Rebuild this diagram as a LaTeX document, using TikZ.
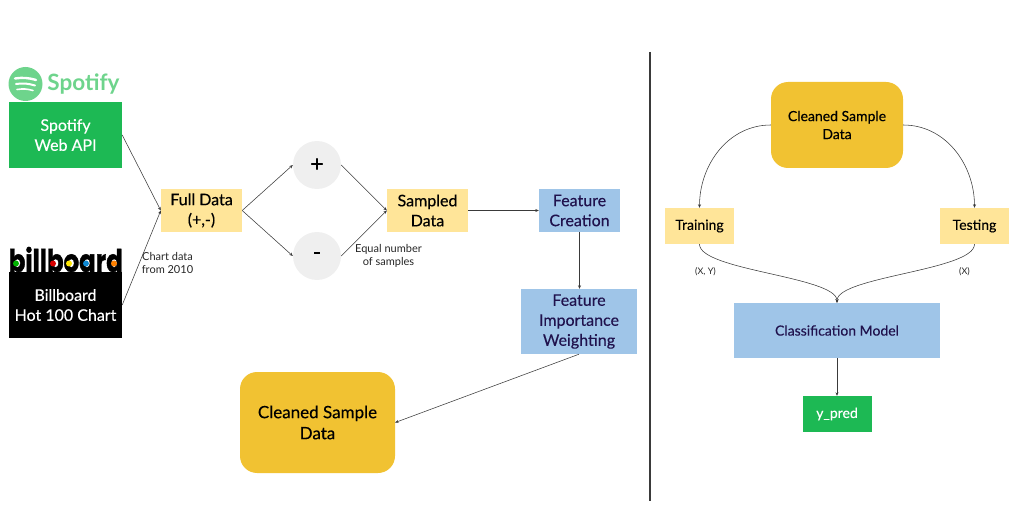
\documentclass[tikz,border=0pt]{standalone}
\usepackage{fontspec}
\setmainfont{Lato}
\newfontfamily\medfont{Lato}[FakeBold=0.25]
\newfontfamily\logofont{Poppins}[FakeBold=1.5]
\usetikzlibrary{arrows.meta}
\definecolor{spotgreen}{HTML}{1DB954}
\definecolor{logogreen}{HTML}{6ED48C}
\definecolor{paleyellow}{HTML}{FFE599}
\definecolor{paleblue}{HTML}{9FC5E8}
\definecolor{deepyellow}{HTML}{F1C232}
\definecolor{palegrey}{HTML}{EFEFEF}
\definecolor{navy}{HTML}{20124D}
\definecolor{wire}{HTML}{3A3A3A}
\begin{document}
\begin{tikzpicture}[x=1pt,y=-1pt]

\tikzset{box/.style={inner sep=0pt,align=center,font=\medfont\fontsize{16}{20}\selectfont,execute at begin node={\vspace*{7pt}}},}
\tikzset{smallbox/.style={font=\medfont\fontsize{14}{18}\selectfont},}
\tikzset{greenbox/.style={box,fill=spotgreen,text=white,minimum width=113pt,minimum height=66pt},}
\tikzset{blackbox/.style={box,fill=black,text=white,minimum width=113pt,minimum height=66pt},}
\tikzset{yellowbox/.style={box,fill=paleyellow,minimum width=81pt,minimum height=43pt},}
\tikzset{bluebox/.style={box,fill=paleblue,text=navy,minimum width=81pt,minimum height=43pt},}
\tikzset{cleaned/.style={box,rounded corners=17pt,fill=deepyellow},}
\tikzset{sign/.style={circle,fill=palegrey,minimum size=48pt,inner sep=0pt,font=\medfont\fontsize{23}{24}\selectfont},}
\tikzset{note/.style={inner sep=0pt,align=center,font=\fontsize{11}{13.5}\selectfont,text=black!85},}
\tikzset{wired/.style={-{Stealth[length=3.5pt,width=3pt]},line width=0.55pt,wire},}

\useasboundingbox (0,0) rectangle (1015,513);

	\draw
		(65.5,135) node[greenbox] (spotbox) {Spotify\\Web API}
		(65.5,305) node[blackbox] (billbox) {Billboard\\Hot 100 Chart}
		(201.5,210.5) node[yellowbox] (full) {Full Data\\(+,-)}
		(317,165) node[sign] (plus) {+}
		(317,256) node[sign] (minus) {\raisebox{-3pt}{-}}
		(427.5,210.5) node[yellowbox] (sampled) {Sampled\\Data}
		(579.5,210.5) node[bluebox] (creation) {Feature\\Creation}
		(579,321.5) node[bluebox,minimum width=116pt,minimum height=65pt] (weighting) {Feature\\Importance\\Weighting}
		(317.5,422.5) node[cleaned,minimum width=155pt,minimum height=101pt,font=\medfont\fontsize{17}{21}\selectfont] (cleanA) {Cleaned Sample\\Data}

		(837,125) node[cleaned,smallbox,minimum width=132pt,minimum height=86pt] (cleanB) {Cleaned Sample\\Data}
		(699.5,226) node[yellowbox,smallbox,minimum width=69pt,minimum height=36pt] (training) {Training}
		(974.5,226) node[yellowbox,smallbox,minimum width=69pt,minimum height=36pt] (testing) {Testing}
		(837,330.5) node[bluebox,smallbox,minimum width=206pt,minimum height=55pt] (model) {Classification Model}
		(837,414) node[greenbox,smallbox,minimum width=69pt,minimum height=36pt] (pred) {y\_pred}

		(167.5,263) node[note] (chart) {Chart data\\from 2010}
		(388.5,256) node[note] (equal) {Equal number\\of samples}
		(705.5,271.5) node[note,font=\fontsize{9}{11}\selectfont] (xy) {(X, Y)}
		(964.5,271.5) node[note,font=\fontsize{9}{11}\selectfont] (xonly) {(X)}
;

% logos
\draw[fill=logogreen,draw=none] (25.5,84) circle (17pt);
\draw[white,line width=2.4pt,line cap=round] (15,78.5) to [bend left=12] (36,80);
\draw[white,line width=2pt,line cap=round] (16,84) to [bend left=12] (35,85.5);
\draw[white,line width=1.6pt,line cap=round] (17,89.5) to [bend left=12] (33,90.5);
\draw(83.5,84)node[inner sep=0pt,text=logogreen,font=\fontsize{22.5}{24}\selectfont\bfseries] (spotlogo) {Spotify};

\draw(65.8,259.5)node[inner sep=0pt,font=\logofont\bfseries\fontsize{26}{28}\selectfont,xscale=0.94,yscale=1.2] (billlogo) {billboard};
\foreach \xx/\cc in {16/green!70!black,53/red!85!black,69/yellow!90!orange,86/cyan!70!blue,114/orange}
	\fill[\cc] (\xx,263.5) circle (3pt);

% left side
\draw[wired](spotbox.east) -- (full.west);
\draw[wired](billbox.east) -- (full.west);
\draw[wired](full.east) -- (plus.west);
\draw[wired](full.east) -- (minus.west);
\draw[wired](plus.east) -- (sampled.west);
\draw[wired](minus.east) -- (sampled.west);
\draw[wired](sampled.east) -- (creation.west);
\draw[wired](creation.south) -- (creation.south |- weighting.north);
\draw[wired](weighting.south) -- (cleanA.east);

% divider
\coordinate (topend) at (650,52);
\coordinate (botend) at (650,501);
\draw[line width=1.1pt,wire] (topend) -- (botend);

% right side
\draw[wired](cleanB.west) to [out=180,in=90] (training.north);
\draw[wired](cleanB.east) to [out=0,in=90] (testing.north);
\draw[wired](training.south) to [out=270,in=90,looseness=0.45] (model.north);
\draw[wired](testing.south) to [out=270,in=90,looseness=0.45] (model.north);
\draw[wired](model.south) -- (pred.north);

\end{tikzpicture}
\end{document}
